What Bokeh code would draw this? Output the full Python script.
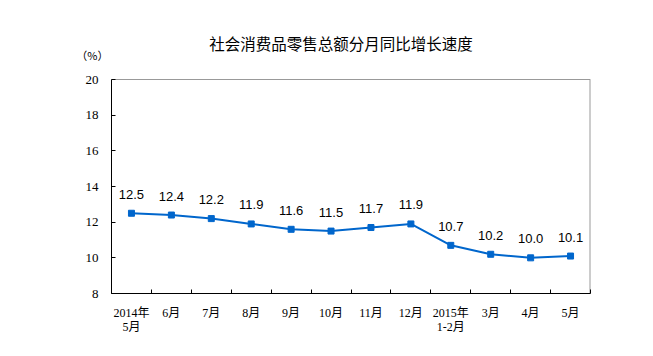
from bokeh.plotting import figure
from bokeh.models import ColumnDataSource, LabelSet, Label, FixedTicker, LinearAxis
from bokeh.core.properties import value
from bokeh.embed import file_html
from bokeh.resources import INLINE

months = ["2014年\n5月", "6月", "7月", "8月", "9月", "10月", "11月", "12月",
          "2015年\n1-2月", "3月", "4月", "5月"]
growth = [12.5, 12.4, 12.2, 11.9, 11.6, 11.5, 11.7, 11.9, 10.7, 10.2, 10.0, 10.1]
y_ticks = [8, 10, 12, 14, 16, 18, 20]
title_text = "社会消费品零售总额分月同比增长速度"
unit_text = "（%）"

Y_MIN, Y_MAX = 8, 20
n = len(months)
xs = [i + 0.5 for i in range(n)]
src = ColumnDataSource(dict(x=xs, y=growth, lab=["%.1f" % v for v in growth]))

SERIF = "'Liberation Serif', 'Noto Sans CJK SC'"
BLUE = "#0066CC"

# the frame reaches above the value box so that the title fits inside it
TOP, BOTTOM_Y = 29, 293
BOX_LEFT, BOX_RIGHT = 111, 590
y_top = Y_MIN + (Y_MAX - Y_MIN) * (BOTTOM_Y - TOP) / (BOTTOM_Y - 79)

p = figure(width=653, height=356, x_range=(0, n), y_range=(Y_MIN, y_top),
           output_backend="svg", toolbar_location=None,
           min_border_left=BOX_LEFT, min_border_right=653 - BOX_RIGHT,
           min_border_top=TOP, min_border_bottom=356 - BOTTOM_Y)
p.grid.visible = False
p.outline_line_color = None
p.background_fill_color = "white"
p.border_fill_color = "white"

# gray top and right borders of the plotting box
p.segment(x0=[0, n], y0=[Y_MAX, Y_MIN], x1=[n, n], y1=[Y_MAX, Y_MAX],
          line_color="#999999", line_width=[1, 2])

# y axis
p.yaxis.ticker = FixedTicker(ticks=y_ticks)
p.yaxis.bounds = (Y_MIN, Y_MAX)
p.yaxis.major_tick_in = 4
p.yaxis.major_tick_out = 0
p.yaxis.minor_tick_line_color = None
p.yaxis.axis_line_color = "black"
p.yaxis.major_label_text_font = SERIF
p.yaxis.major_label_text_font_size = "13px"
p.yaxis.major_label_text_color = "black"
p.yaxis.major_label_standoff = 13

# unit label, carried by a second, invisible left axis
unit_y = 21.4
unit_axis = LinearAxis(ticker=FixedTicker(ticks=[unit_y]),
                       major_label_overrides={unit_y: unit_text},
                       axis_line_color=None, major_tick_line_color=None,
                       minor_tick_line_color=None,
                       major_label_text_font="Noto Sans CJK SC",
                       major_label_text_font_size="11px",
                       major_label_text_color="black",
                       major_label_standoff=-32)
p.add_layout(unit_axis, "left")

# x axis
p.xaxis.ticker = FixedTicker(ticks=xs, minor_ticks=list(range(n + 1)))
p.xaxis.major_label_overrides = {x: m for x, m in zip(xs, months)}
p.xaxis.major_tick_line_color = None
p.xaxis.minor_tick_in = 4
p.xaxis.minor_tick_out = 0
p.xaxis.minor_tick_line_color = "black"
p.xaxis.axis_line_color = "black"
p.xaxis.major_label_text_font = SERIF
p.xaxis.major_label_text_font_size = "12px"
p.xaxis.major_label_text_color = "black"
p.xaxis.major_label_text_line_height = 1.0
p.xaxis.major_label_standoff = 6

p.line("x", "y", source=src, line_color=BLUE, line_width=2)
p.scatter("x", "y", source=src, marker="square", size=6,
          fill_color=BLUE, line_color=BLUE)

labels = LabelSet(x="x", y="y", text="lab", source=src, y_offset=19,
                  text_align="center", text_baseline="middle",
                  text_font=value("Liberation Sans"), text_font_size=value("13px"),
                  text_color="black")
p.add_layout(labels)

p.add_layout(Label(x=5.75, y=22.05, text=title_text, text_align="center",
                   text_baseline="middle", text_font="Noto Sans CJK SC",
                   text_font_size="15.5px", text_color="black"))

open("out.html", "w").write(file_html(p, INLINE))
